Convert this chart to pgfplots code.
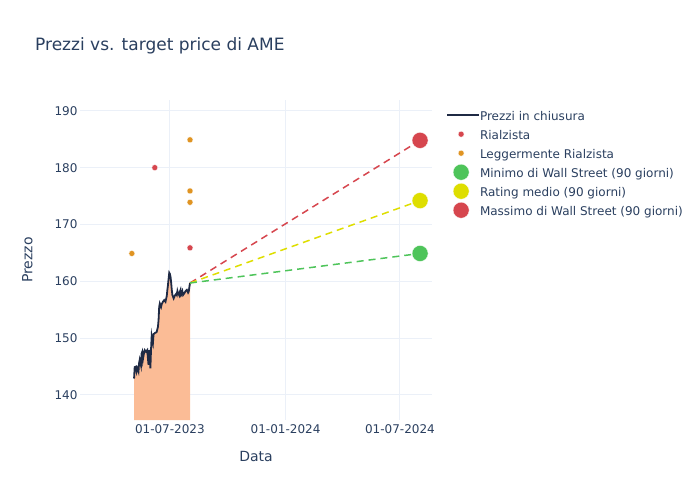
\documentclass[border=0pt]{standalone}
\usepackage{pgfplots}
\pgfplotsset{compat=1.18}
\usepackage{fontspec}
\setmainfont{DejaVu Sans}

\definecolor{txt}{HTML}{2A3F5F}
\definecolor{gridc}{HTML}{EBF0F8}
\definecolor{pricec}{HTML}{1F2A44}
\definecolor{fillc}{HTML}{FBBC96}
\definecolor{redc}{HTML}{D6464E}
\definecolor{orangec}{HTML}{E09422}
\definecolor{greenc}{HTML}{4EC45A}
\definecolor{yellowc}{HTML}{DEDE00}

% x = days since 01-07-2023
\pgfplotstableread{
d p
-57 142.9
-56 144.9
-54 145.0
-53 144.2
-52 144.7
-50 144.1
-49 145.6
-48 146.2
-46 145.2
-45 147.3
-44 147.6
-43 146.2
-41 147.5
-40 147.9
-38 147.6
-36 147.9
-35 146.5
-34 145.3
-33 147.9
-32 147.2
-31 144.7
-30 148.0
-29 150.3
-28 149.6
-27 149.1
-26 150.7
-24 150.9
-22 151.0
-21 151.1
-19 152.0
-18 153.2
-17 155.5
-16 156.1
-15 155.8
-14 155.5
-13 156.0
-11 156.4
-9 156.7
-7 156.4
-5 157.4
-4 158.5
-3 159.4
-2 160.5
-1 161.5
0 161.3
1 160.8
2 159.8
3 158.5
4 157.6
6 157.0
8 157.5
10 157.8
11 157.6
12 158.3
13 157.9
15 157.5
16 158.2
17 158.5
18 157.6
19 157.8
20 158.2
21 157.6
23 157.9
25 158.3
27 158.5
29 158.0
30 158.2
31 159.0
32 159.7
}\price

\begin{document}
\begin{tikzpicture}[x=1pt,y=1pt]
\path[use as bounding box] (0,0) rectangle (700,-500);
\node[anchor=base west, inner sep=0pt, text=txt, font=\fontsize{17}{20}\selectfont] at (35,-51) {Prezzi vs. target price di AME};
\begin{axis}[
    at={(80pt,-420pt)}, anchor=south west,
    scale only axis, width=352pt, height=320pt,
    xmin=-143, xmax=417, ymin=135.6, ymax=191.9,
    xtick={0,184,366},
    xticklabels={01-07-2023,01-01-2024,01-07-2024},
    ytick={140,150,160,170,180,190},
    /pgf/number format/assume math mode=true,
    grid=major, major grid style={gridc, line width=1pt},
    axis line style={draw=none}, major tick length=0pt,
    tick label style={text=txt, font=\fontsize{12}{14}\selectfont},
    xticklabel style={yshift=-1pt},
    yticklabel style={xshift=1pt},
    xlabel={Data}, ylabel={Prezzo},
    label style={text=txt, font=\fontsize{14}{16}\selectfont},
    xlabel style={yshift=-11pt},
    ylabel style={yshift=15pt},
    legend cell align=left,
    legend style={at={(1.0398,0.975)}, anchor=north west, draw=none, fill=none,
        inner sep=0pt, row sep=3pt, text=txt,
        font=\fontsize{12}{14}\selectfont,
        nodes={inner sep=0pt, text height=12pt, text depth=4pt}},
    legend image code/.code={\path (0pt,1pt) -- (32pt,1pt);
        \draw[overlay,mark repeat=2,mark phase=2,#1] plot coordinates {(0pt,1pt) (14pt,1pt) (28pt,1pt)};},
]
\addplot[fill=fillc, draw=none, forget plot] table[x=d,y=p] {\price} \closedcycle;
\addplot[pricec, line width=1.8pt, mark=none] table[x=d,y=p] {\price};
\addlegendentry{Prezzi in chiusura}
\addplot[redc, line width=1.5pt, dash pattern=on 7pt off 5pt, forget plot] coordinates {(32,159.7) (398,184.8)};
\addplot[yellowc, line width=1.5pt, dash pattern=on 7pt off 5pt, forget plot] coordinates {(32,159.7) (398,174.2)};
\addplot[greenc, line width=1.5pt, dash pattern=on 7pt off 5pt, forget plot] coordinates {(32,159.7) (398,164.9)};
\addplot[only marks, mark=*, mark size=3pt, draw=white, line width=0.3pt, fill=redc] coordinates {(-24,180) (32,165.9)};
\addlegendentry{Rialzista}
\addplot[only marks, mark=*, mark size=3pt, draw=white, line width=0.3pt, fill=orangec] coordinates {(-60.5,164.9) (32,184.9) (32,175.9) (32,173.9)};
\addlegendentry{Leggermente Rialzista}
\addplot[only marks, mark=*, mark size=8pt, draw=white, line width=0.3pt, fill=greenc] coordinates {(398,164.9)};
\addlegendentry{Minimo di Wall Street (90 giorni)}
\addplot[only marks, mark=*, mark size=8pt, draw=white, line width=0.3pt, fill=yellowc] coordinates {(398,174.2)};
\addlegendentry{Rating medio (90 giorni)}
\addplot[only marks, mark=*, mark size=8pt, draw=white, line width=0.3pt, fill=redc] coordinates {(398,184.8)};
\addlegendentry{Massimo di Wall Street (90 giorni)}
\end{axis}
\end{tikzpicture}
\end{document}
